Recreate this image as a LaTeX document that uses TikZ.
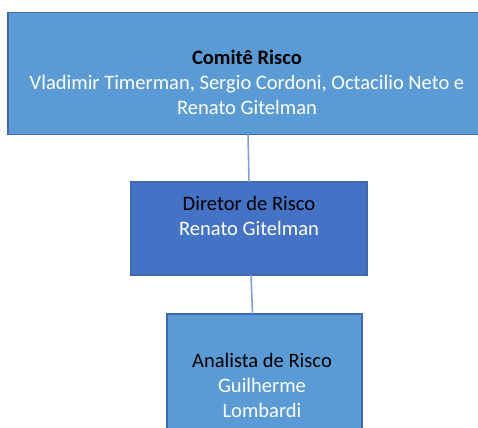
\documentclass[tikz,border=0pt]{standalone}
\usepackage{fontspec}
\setmainfont{Carlito}
\definecolor{boxlight}{HTML}{5B9BD5}
\definecolor{boxdark}{HTML}{4472C4}
\definecolor{boxborder}{HTML}{3F68B0}
\definecolor{connc}{HTML}{7F9FD6}
\begin{document}
\begin{tikzpicture}[x=0.75pt,y=-0.75pt,
  orgbox/.style={draw=boxborder,line width=1pt,inner sep=0pt,outer sep=0pt},
  txt/.style={align=center,inner sep=0pt,font=\fontsize{15.4}{18.75}\selectfont},
  conn/.style={draw=connc,line width=1.2pt}]
\useasboundingbox (0,0) rectangle (478,428);
\begin{scope}
\clip (0,0) rectangle (478,428);
\node[orgbox,fill=boxlight,minimum width=360pt,minimum height=91pt] (top) at (248,73.5) {};
\node[orgbox,fill=boxdark,minimum width=177pt,minimum height=69.75pt] (dir) at (249,228.5) {};
\node[orgbox,fill=boxlight,minimum width=146.25pt,minimum height=90pt] (ana) at (264.5,374) {};
\end{scope}
\node[txt] (toptxt) at (247,82) {\textbf{Comitê Risco}\\\textcolor{white}{Vladimir Timerman, Sergio Cordoni, Octacilio Neto e}\\\textcolor{white}{Renato Gitelman}};
\node[txt] (dirtxt) at (249,215.5) {Diretor de Risco\\\textcolor{white}{Renato Gitelman}};
\node[txt] (anatxt) at (262,385) {Analista de Risco\\\textcolor{white}{Guilherme}\\\textcolor{white}{Lombardi}};
\draw[conn] (top.south) -- ([xshift=0pt]dir.north);
\draw[conn] ([xshift=1.5pt]dir.south) -- ([xshift=-9pt]ana.north);
\end{tikzpicture}
\end{document}
